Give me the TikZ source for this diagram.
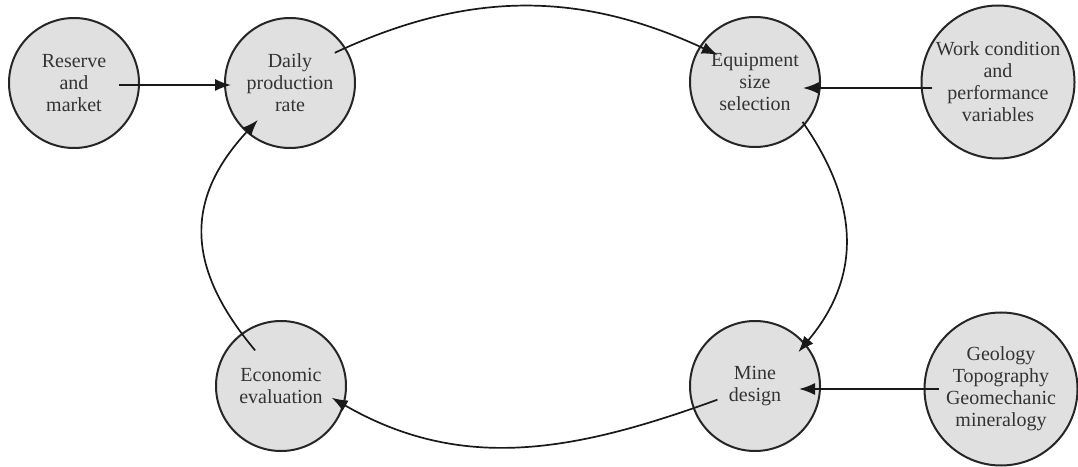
\documentclass[tikz,border=0pt]{standalone}
\usepackage{fontspec}
\setmainfont{Liberation Serif}
\usetikzlibrary{arrows.meta}

\begin{document}
\begin{tikzpicture}[x=1pt, y=1pt,
		stage/.style={circle, draw=black!85, fill=black!12, line width=2pt, minimum size=130pt, inner sep=0pt, align=center, text=black!80, font=\fontsize{20}{22}\selectfont},
		bigstage/.style={stage, minimum size=153pt},
		link/.style={-{Latex[length=16pt,width=12pt]}, line width=1.7pt, black!90}]
				\useasboundingbox (0,0) rectangle (1078,466);
				\node[stage] (reserve) at (74,383) {Reserve\\and\\market};
				\node[stage] (daily) at (290,383) {Daily\\production\\rate};
				\node[stage] (equip) at (755,384) {Equipment\\size\\selection};
				\node[bigstage] (work) at (998,384) {Work condition\\and\\performance\\variables};
				\node[stage] (mine) at (755,80) {Mine\\design};
				\node[bigstage] (geo) at (1001,77) {Geology\\Topography\\Geomechanic\\mineralogy};
				\node[stage] (econ) at (281,80) {Economic\\evaluation};
				% inputs
				\draw[link] ([shift={(-21pt,-2pt)}]reserve.east) -- ([shift={(7pt,-2pt)}]daily.west);
				\draw[link] ([shift={(11pt,-6pt)}]work.west) -- ([shift={(-18pt,-6pt)}]equip.east);
				\draw[link] ([xshift=15pt]geo.west) -- ([shift={(-22pt,-3pt)}]mine.east);
				% loop
				\draw[link] ([shift={(34:54pt)}]daily.center) to[out=25, in=155] ([shift={(144:46pt)}]equip.center);
				\draw[link] ([shift={(-40:62pt)}]equip.center) to[out=-55, in=50, looseness=1.1] ([shift={(38:55pt)}]mine.center);
				\draw[link] ([shift={(200:40pt)}]mine.center) to[out=200, in=-30] ([shift={(-13:52pt)}]econ.center);
				\draw[link] ([shift={(126:44pt)}]econ.center) to[out=130, in=227, looseness=1.2] ([shift={(229:49pt)}]daily.center);
\end{tikzpicture}
\end{document}
